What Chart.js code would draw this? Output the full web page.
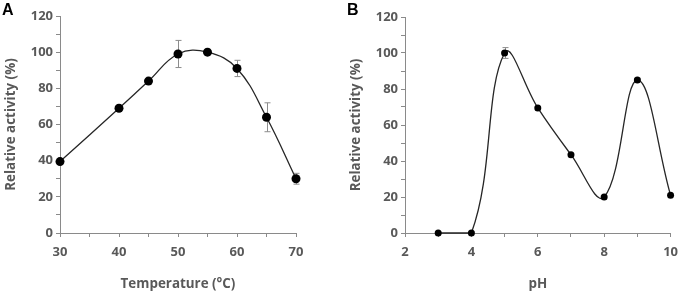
<!DOCTYPE html>
<html>
<head>
<meta charset="utf-8">
<script src="https://cdn.jsdelivr.net/npm/chart.js@4/dist/chart.umd.min.js"></script>
<style>
  body { margin: 0; background: #fff; }
  .panel { position: absolute; top: 0; width: 340px; height: 292px; }
  .tag { position: absolute; top: 2px; font: bold 16px "Liberation Sans", Arial, sans-serif; color: #000; line-height: 16px; }
</style>
</head>
<body>
<div class="panel" style="left:0"><canvas id="chartA"></canvas></div>
<div class="panel" style="left:345px"><canvas id="chartB"></canvas></div>
<div class="tag" style="left:2px">A</div>
<div class="tag" style="left:347px">B</div>
<script>
// panel A: temperature
const tempValues = [30, 40, 45, 50, 55, 60, 65, 70]
const tempActivity = [39.5, 69, 84, 99, 100, 91, 64, 30]
const tempErrors = [0, 0, 0, 7.5, 0, 4.5, 8, 3]
const tempTickLabels = [30, 40, 50, 60, 70]

// panel B: pH
const phValues = [3, 4, 5, 6, 7, 8, 9, 10]
const phActivity = [0, 0, 100, 69.5, 43.5, 20, 85, 21]
const phErrors = [0, 0, 3, 0, 0, 0, 1, 0]
const phTickLabels = [2, 4, 6, 8, 10]

const yTickLabels = [0, 20, 40, 60, 80, 100, 120]

const axisGrey = '#8a8a8a'
const textGrey = '#595959'
const fontName = '"Open Sans"'

// error bars drawn under the points with the chart's own scales
const errorBars = {
  id: 'errorBars',
  beforeDatasetsDraw(chart, args, opts) {
    const ctx = chart.ctx
    const xs = chart.scales.x
    const ys = chart.scales.y
    ctx.save()
    ctx.strokeStyle = '#8c8c8c'
    ctx.lineWidth = 1
    opts.x.forEach((xv, i) => {
      const e = opts.err[i]
      if (!e) return
      const px = Math.round(xs.getPixelForValue(xv)) + 0.5
      const top = ys.getPixelForValue(opts.y[i] + e)
      const bot = ys.getPixelForValue(opts.y[i] - e)
      ctx.beginPath()
      ctx.moveTo(px, top); ctx.lineTo(px, bot)
      ctx.moveTo(px - 3, top); ctx.lineTo(px + 3, top)
      ctx.moveTo(px - 3, bot); ctx.lineTo(px + 3, bot)
      ctx.stroke()
    })
    ctx.restore()
  }
}

function makeChart(id, xv, yv, err, xLabels, opts) {
  const ctx = document.getElementById(id).getContext('2d')
  return new Chart(ctx, {
    type: 'line',
    data: {
      datasets: [{
        data: xv.map((x, i) => ({ x: x, y: yv[i] })),
        borderColor: '#262626',
        borderWidth: 1.3,
        tension: 0.4,
        clip: false,
        pointRadius: opts.pointRadius,
        pointBackgroundColor: '#000',
        pointBorderColor: '#000',
        pointBorderWidth: 0
      }]
    },
    plugins: [errorBars],
    options: {
      responsive: true,
      maintainAspectRatio: false,
      animation: false,
      layout: { padding: { left: 0, top: opts.top, right: opts.right, bottom: 0 } },
      plugins: {
        legend: { display: false },
        tooltip: { enabled: false },
        errorBars: { x: xv, y: yv, err: err }
      },
      scales: {
        x: {
          type: 'linear',
          min: opts.xMin,
          max: opts.xMax,
          afterFit: s => { s.height = 59 },
          grid: { drawOnChartArea: false, drawTicks: true, tickLength: 4, color: axisGrey },
          border: { color: axisGrey, width: 1 },
          ticks: {
            stepSize: opts.xStep,
            autoSkip: false,
            maxRotation: 0,
            padding: 7,
            color: textGrey,
            font: { family: fontName, size: 13, weight: 'bold' },
            callback: v => xLabels.includes(v) ? v : ''
          },
          title: {
            display: true,
            text: opts.xTitle,
            color: textGrey,
            padding: { top: 0, bottom: 0 },
            font: { family: fontName, size: 13.4, weight: 'bold' }
          }
        },
        y: {
          min: 0,
          max: 120,
          afterFit: s => { s.width = 60 },
          grid: { drawOnChartArea: false, drawTicks: true, tickLength: 4, color: axisGrey },
          border: { color: axisGrey, width: 1 },
          ticks: {
            stepSize: 10,
            autoSkip: false,
            padding: 3,
            color: textGrey,
            font: { family: fontName, size: 13, weight: 'bold' },
            callback: v => yTickLabels.includes(v) ? v : ''
          },
          title: {
            display: true,
            text: 'Relative activity (%)',
            color: textGrey,
            padding: { top: 3, bottom: 0 },
            font: { family: fontName, size: 13.4, weight: 'bold' }
          }
        }
      }
    }
  })
}

makeChart('chartA', tempValues, tempActivity, tempErrors, tempTickLabels,
  { top: 16, right: 44, xMin: 30, xMax: 70, xStep: 5, pointRadius: 4.5, xTitle: 'Temperature (°C)' })
makeChart('chartB', phValues, phActivity, phErrors, phTickLabels,
  { top: 17, right: 9, xMin: 2, xMax: 10, xStep: 1, pointRadius: 3.5, xTitle: 'pH' })
</script>
</body>
</html>
